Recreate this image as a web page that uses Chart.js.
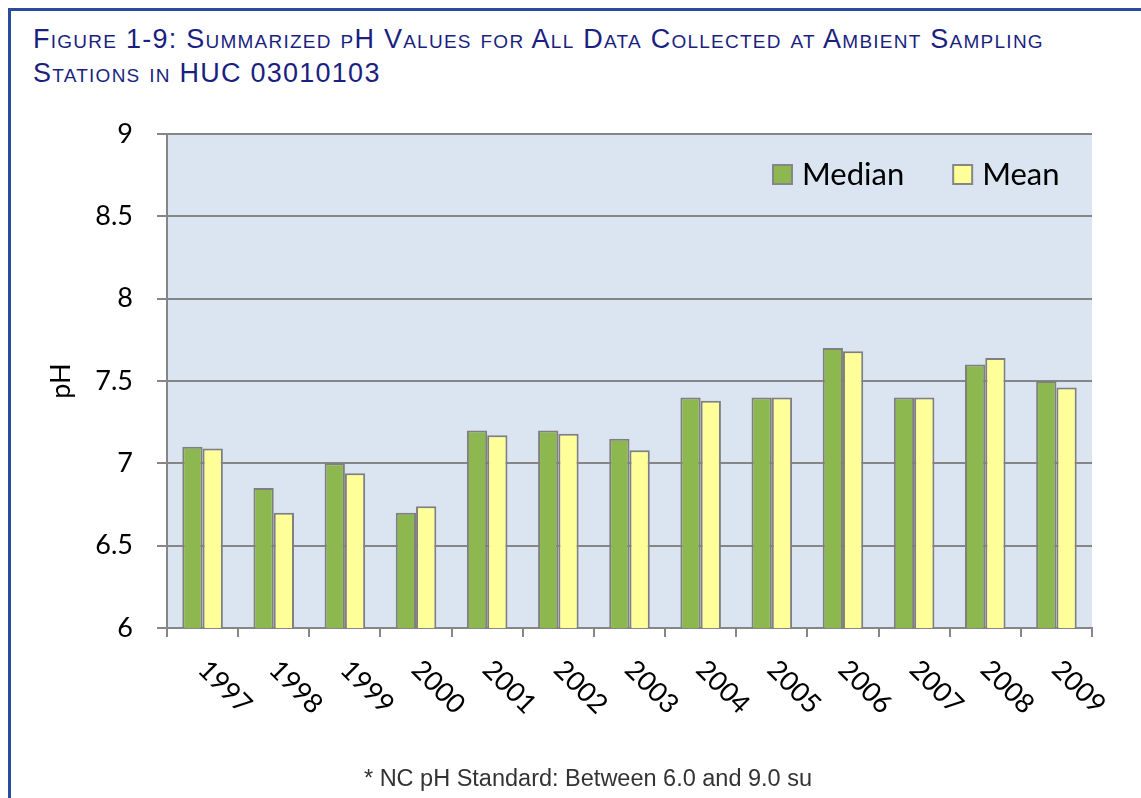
<!DOCTYPE html>
<html>
<head>
<meta charset="utf-8">
<script src="https://cdn.jsdelivr.net/npm/chart.js@4/dist/chart.umd.min.js"></script>
<style>
  html, body { margin: 0; padding: 0; background: #fff; }
  #wrap { position: relative; width: 1141px; height: 798px; overflow: hidden; }
  #frame { position: absolute; left: 8px; top: 8px; right: -10px; bottom: -10px;
           border-top: 3px solid #2B4C9B; border-left: 3px solid #2B4C9B; }
  #title { position: absolute; left: 33px; top: 22px; font-family: "Liberation Sans", Arial, sans-serif;
           font-size: 27px; font-variant: small-caps; letter-spacing: 1.25px; color: #1B1F80; line-height: 34px; }
  #note { position: absolute; left: 0; width: 1176px; top: 765px; text-align: center;
          font-family: "Liberation Sans", Arial, sans-serif; font-size: 23.5px; color: #333; }
  canvas { position: absolute; left: 0; top: 0; }
</style>
</head>
<body>
<div id="wrap">
  <div id="frame"></div>
  <div id="title">Figure 1-9: Summarized pH Values for All Data Collected at Ambient Sampling<br>Stations in HUC 03010103</div>
  <canvas id="barChart" width="1141" height="798"></canvas>
  <div id="note">* NC pH Standard: Between 6.0 and 9.0 su</div>
</div>
<script>
const years = ["1997", "1998", "1999", "2000", "2001", "2002", "2003", "2004", "2005", "2006", "2007", "2008", "2009"];
const medianPH = [7.10, 6.85, 7.00, 6.70, 7.20, 7.20, 7.15, 7.40, 7.40, 7.70, 7.40, 7.60, 7.50];
const meanPH = [7.09, 6.70, 6.94, 6.74, 7.17, 7.18, 7.08, 7.38, 7.40, 7.68, 7.40, 7.64, 7.46];
const yTicks = [6, 6.5, 7, 7.5, 8, 8.5, 9];

const gridGrey = "#868686";
const font = "Lato, 'Open Sans', sans-serif";

// plot background
const plotBg = {
  id: "plotBg",
  beforeDraw(chart) {
    const a = chart.chartArea, ctx = chart.ctx;
    ctx.save();
    ctx.fillStyle = "#DBE5F1";
    ctx.fillRect(a.left, a.top, a.right - a.left, a.bottom - a.top);
    ctx.restore();
  }
};

// slanted year labels + legend inside the plot
const extras = {
  id: "extras",
  afterDraw(chart) {
    const ctx = chart.ctx, a = chart.chartArea, xs = chart.scales.x;
    ctx.save();
    ctx.fillStyle = "#000";
    ctx.font = "27px " + font;
    ctx.textAlign = "left";
    ctx.textBaseline = "middle";
    years.forEach((y, i) => {
      ctx.save();
      ctx.translate(xs.getPixelForValue(i), a.bottom + 37);
      ctx.rotate(Math.PI / 4);
      ctx.fillText(y, 0, 0);
      ctx.restore();
    });

    // legend
    ctx.font = "31px " + font;
    let x = a.right - 319;
    const cy = a.top + 40;
    chart.data.datasets.forEach(ds => {
      ctx.fillStyle = ds.backgroundColor;
      ctx.fillRect(x, cy - 9, 19, 19);
      ctx.strokeStyle = gridGrey;
      ctx.lineWidth = 2;
      ctx.strokeRect(x, cy - 9, 19, 19);
      ctx.fillStyle = "#000";
      ctx.fillText(ds.label, x + 29, cy + 1);
      x += 29 + ctx.measureText(ds.label).width + 49;
    });
    ctx.restore();
  }
};

new Chart(document.getElementById("barChart"), {
  type: "bar",
  data: {
    labels: years,
    datasets: [
      { label: "Median", data: medianPH, backgroundColor: "#8DB84F", borderColor: "#7F7F7F", borderWidth: 2 },
      { label: "Mean", data: meanPH, backgroundColor: "#FFFF99", borderColor: "#7F7F7F", borderWidth: 2 }
    ]
  },
  options: {
    responsive: false,
    animation: false,
    datasets: { bar: { categoryPercentage: 0.57, barPercentage: 1 } },
    layout: { padding: { top: 134, right: 49, left: 0, bottom: 0 } },
    plugins: { legend: { display: false }, tooltip: { enabled: false } },
    scales: {
      x: {
        afterFit(scale) { scale.height = 170; },
        grid: { drawOnChartArea: false, drawTicks: true, tickLength: 9, color: gridGrey, lineWidth: 2, offset: true },
        border: { color: gridGrey, width: 2 },
        ticks: { display: false }
      },
      y: {
        min: 6,
        max: 9,
        afterFit(scale) { scale.width = 167; },
        afterBuildTicks(scale) { scale.ticks = yTicks.map(v => ({ value: v })); },
        grid: { color: gridGrey, lineWidth: 2, tickLength: 10 },
        border: { color: gridGrey, width: 2 },
        ticks: { color: "#000", padding: 24, font: { family: font, size: 27 }, callback: v => String(v) },
        title: { display: true, text: "pH", color: "#000", padding: { top: 45 }, font: { family: font, size: 27 } }
      }
    }
  },
  plugins: [plotBg, extras]
});
</script>
</body>
</html>
